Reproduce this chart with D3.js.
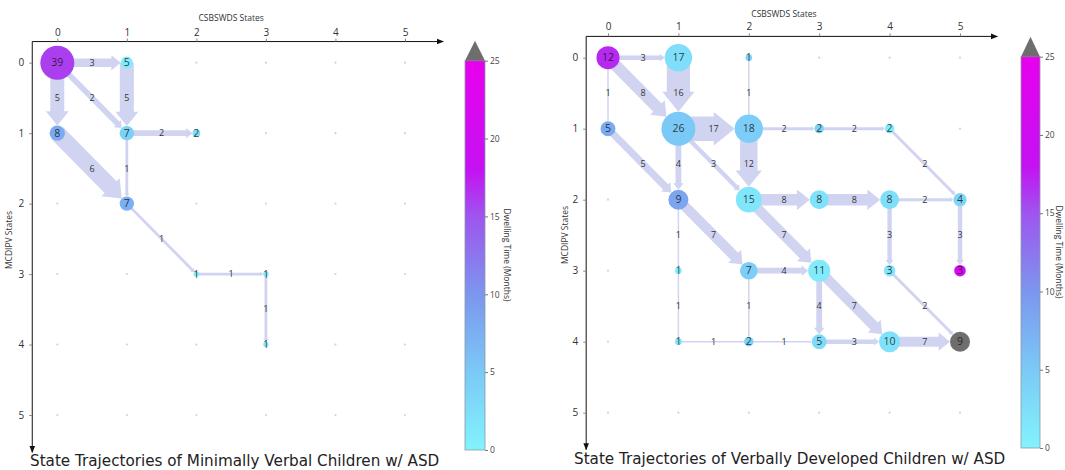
<!DOCTYPE html>
<html lang="en">
<head>
<meta charset="UTF-8">
<title>State Trajectories</title>
<style>
    body { margin: 0; background: #fff; }
    svg { display: block; }
    text { font-family: 'Open Sans', 'DejaVu Sans', sans-serif; }
    .title { font-family: 'DejaVu Sans', sans-serif; }
</style>
</head>
<body>
<svg width="1065" height="470"></svg>
<script src="https://d3js.org/d3.v7.min.js"></script>
<script>
// grid states (tick labels)
var states = [0, 1, 2, 3, 4, 5];

// nodes: [CSBSWDS state, MCDIPV state, count, dwelling time (months)]
var minimalNodes = [
    [0, 0, 39, 16], [1, 0, 5, 1], [0, 1, 8, 8], [1, 1, 7, 4], [2, 1, 2, 2.5],
    [1, 2, 7, 7.5], [2, 3, 1, 1], [3, 3, 1, 1], [3, 4, 1, 1]
];
// edges: [from col, from row, to col, to row, count]
var minimalEdges = [
    [0, 0, 1, 0, 3], [0, 0, 0, 1, 5], [0, 0, 1, 1, 2], [1, 0, 1, 1, 5],
    [1, 1, 2, 1, 2], [0, 1, 1, 2, 6], [1, 1, 1, 2, 1], [1, 2, 2, 3, 1],
    [2, 3, 3, 3, 1], [3, 3, 3, 4, 1]
];

var verbalNodes = [
    [0, 0, 12, 17], [1, 0, 17, 2.5], [2, 0, 1, 3.5],
    [0, 1, 5, 8], [1, 1, 26, 5], [2, 1, 18, 4.5], [3, 1, 2, 4], [4, 1, 2, 1],
    [1, 2, 9, 8.5], [2, 2, 15, 1.5], [3, 2, 8, 2], [4, 2, 8, 2.5], [5, 2, 4, 3.5],
    [1, 3, 1, 1], [2, 3, 7, 4.5], [3, 3, 11, 1], [4, 3, 3, 1.5], [5, 3, 3, 21],
    [1, 4, 1, 2], [2, 4, 2, 4], [3, 4, 5, 3], [4, 4, 10, 2], [5, 4, 9, 30]
];
var verbalEdges = [
    [0, 0, 1, 0, 3], [0, 0, 0, 1, 1], [0, 0, 1, 1, 8], [1, 0, 1, 1, 16], [2, 0, 2, 1, 1],
    [1, 1, 2, 1, 17], [2, 1, 3, 1, 2], [3, 1, 4, 1, 2], [4, 1, 5, 2, 2],
    [0, 1, 1, 2, 5], [1, 1, 1, 2, 4], [1, 1, 2, 2, 3], [2, 1, 2, 2, 12],
    [2, 2, 3, 2, 8], [3, 2, 4, 2, 8], [4, 2, 5, 2, 2],
    [1, 2, 1, 3, 1], [1, 2, 2, 3, 7], [2, 2, 3, 3, 7], [4, 2, 4, 3, 3], [5, 2, 5, 3, 3],
    [2, 3, 3, 3, 4], [1, 3, 1, 4, 1], [2, 3, 2, 4, 1], [3, 3, 3, 4, 4], [3, 3, 4, 4, 7],
    [4, 3, 5, 4, 2], [1, 4, 2, 4, 1], [2, 4, 3, 4, 1], [3, 4, 4, 4, 3], [4, 4, 5, 4, 7]
];

// colorbar ticks and colormap stops
var cbTicks = [0, 5, 10, 15, 20, 25];
var cbStopValues = [0, 5, 10, 15, 18, 25];
var cbStopColors = ["#82f3fd", "#7bc9f6", "#7c96ee", "#9e55ee", "#c412f2", "#e800ee"];
var overColor = "#6e6e6e";

var color = d3.scaleLinear().domain(cbStopValues).range(cbStopColors).clamp(true);
function nodeColor(v) { return v > 25 ? overColor : color(v); }

var svg = d3.select("svg");

// arrowhead marker for the axes
svg.append("defs").append("marker")
    .attr("id", "axhead")
    .attr("viewBox", "0 0 10 10")
    .attr("refX", 9).attr("refY", 5)
    .attr("markerWidth", 7).attr("markerHeight", 7)
    .attr("markerUnits", "userSpaceOnUse")
    .attr("orient", "auto")
    .append("path").attr("d", "M0,1 L10,5 L0,9 Z").attr("fill", "#111");

function arrowPoints(sx, sy, tx, ty, rt, w, hw, hl) {
    var dx = tx - sx, dy = ty - sy, len = Math.sqrt(dx * dx + dy * dy);
    var ux = dx / len, uy = dy / len, nx = -uy, ny = ux;
    var tipX = tx - ux * rt, tipY = ty - uy * rt;
    var bx = tipX - ux * hl, by = tipY - uy * hl;
    var h = w / 2, hh = hw / 2;
    return [
        [sx + nx * h, sy + ny * h], [bx + nx * h, by + ny * h], [bx + nx * hh, by + ny * hh],
        [tipX, tipY],
        [bx - nx * hh, by - ny * hh], [bx - nx * h, by - ny * h], [sx - nx * h, sy - ny * h]
    ];
}

function drawPanel(cfg, nodes, edges, title) {
    var g = svg.append("g");
    var x = d3.scaleLinear().domain([0, 5]).range(cfg.xr);
    var y = d3.scaleLinear().domain([0, 5]).range(cfg.yr);
    var maxCount = d3.max(nodes, function(d) { return d[2]; });
    var r = function(n) { return 17 * Math.sqrt(n / maxCount); };
    var rAt = {};
    nodes.forEach(function(d) { rAt[d[0] + "," + d[1]] = r(d[2]); });

    // axes with arrows
    g.append("line")
        .attr("x1", x(cfg.xa[0])).attr("x2", x(cfg.xa[1]))
        .attr("y1", y(cfg.ya[0])).attr("y2", y(cfg.ya[0]))
        .attr("stroke", "#111").attr("stroke-width", 1).attr("marker-end", "url(#axhead)");
    g.append("line")
        .attr("x1", x(cfg.xa[0])).attr("x2", x(cfg.xa[0]))
        .attr("y1", y(cfg.ya[0])).attr("y2", y(cfg.ya[1]))
        .attr("stroke", "#111").attr("stroke-width", 1).attr("marker-end", "url(#axhead)");

    var xAxis = g.append("g")
        .attr("transform", "translate(0," + y(cfg.ya[0]) + ")")
        .call(d3.axisTop(x).tickValues(states).tickFormat(d3.format("d")).tickSize(3).tickPadding(3));
    var yAxis = g.append("g")
        .attr("transform", "translate(" + x(cfg.xa[0]) + ",0)")
        .call(d3.axisLeft(y).tickValues(states).tickFormat(d3.format("d")).tickSize(3).tickPadding(5));
    [xAxis, yAxis].forEach(function(a) {
        a.select(".domain").remove();
        a.selectAll(".tick line").attr("stroke", "#888");
        a.selectAll(".tick text").attr("fill", "#333").style("font-size", "10px")
            .style("font-family", "'Open Sans', sans-serif");
    });

    g.append("text")
        .attr("x", (x(0) + x(5)) / 2).attr("y", cfg.xTitleY)
        .attr("text-anchor", "middle").attr("font-size", "8.5px").attr("fill", "#333")
        .text("CSBSWDS States");
    g.append("text")
        .attr("transform", "translate(" + cfg.yTitleX + "," + cfg.yTitleY + ") rotate(-90)")
        .attr("text-anchor", "middle").attr("font-size", "8.5px").attr("fill", "#333")
        .text("MCDIPV States");

    // grid dots
    var grid = [];
    states.forEach(function(c) { states.forEach(function(rw) { grid.push([c, rw]); }); });
    g.selectAll(".dot").data(grid).enter().append("circle")
        .attr("cx", function(d) { return x(d[0]); })
        .attr("cy", function(d) { return y(d[1]); })
        .attr("r", 1.1).attr("fill", "#d4d4d4");

    // edges
    g.selectAll(".edge").data(edges).enter().append("polygon")
        .attr("points", function(d) {
            var w = cfg.edgeScale * d[4];
            var hw = Math.min(w * 1.8, w + 9);
            var hl = hw * 0.62;
            return arrowPoints(x(d[0]), y(d[1]), x(d[2]), y(d[3]),
                rAt[d[2] + "," + d[3]], w, hw, hl).join(" ");
        })
        .attr("fill", "#c8cdee").attr("fill-opacity", 0.85);

    g.selectAll(".elab").data(edges).enter().append("text")
        .attr("x", function(d) { return (x(d[0]) + x(d[2])) / 2; })
        .attr("y", function(d) { return (y(d[1]) + y(d[3])) / 2; })
        .attr("dy", "0.35em").attr("text-anchor", "middle")
        .attr("font-size", "9px").attr("fill", "#333")
        .text(function(d) { return d[4]; });

    // nodes
    g.selectAll(".node").data(nodes).enter().append("circle")
        .attr("cx", function(d) { return x(d[0]); })
        .attr("cy", function(d) { return y(d[1]); })
        .attr("r", function(d) { return r(d[2]); })
        .attr("fill", function(d) { return nodeColor(d[3]); });
    g.selectAll(".nlab").data(nodes).enter().append("text")
        .attr("x", function(d) { return x(d[0]); })
        .attr("y", function(d) { return y(d[1]); })
        .attr("dy", "0.36em").attr("text-anchor", "middle")
        .attr("font-size", "10.5px").attr("fill", "#111").attr("fill-opacity", 0.8)
        .text(function(d) { return d[2]; });

    g.append("text").attr("class", "title")
        .attr("x", cfg.titleX).attr("y", cfg.titleY)
        .attr("font-size", "15.2px").attr("fill", "#222")
        .text(title);

    // colorbar
    var cb = svg.append("g");
    var cy = d3.scaleLinear().domain([0, 25]).range(cfg.cbY);
    var gradId = "grad" + cfg.id;
    var grad = svg.select("defs").append("linearGradient").attr("id", gradId)
        .attr("x1", 0).attr("y1", 1).attr("x2", 0).attr("y2", 0);
    cbStopValues.forEach(function(v, i) {
        grad.append("stop").attr("offset", v / 25).attr("stop-color", cbStopColors[i]);
    });
    cb.append("rect")
        .attr("x", cfg.cbX).attr("y", cy(25)).attr("width", cfg.cbW)
        .attr("height", cy(0) - cy(25)).attr("fill", "url(#" + gradId + ")")
        .attr("stroke", "#8a9aa6").attr("stroke-width", 0.8);
    cb.append("path")
        .attr("d", "M" + cfg.cbX + "," + cy(25) + " L" + (cfg.cbX + cfg.cbW / 2) + "," + (cy(25) - 20) +
            " L" + (cfg.cbX + cfg.cbW) + "," + cy(25) + " Z")
        .attr("fill", overColor);
    var cbAxis = cb.append("g")
        .attr("transform", "translate(" + (cfg.cbX + cfg.cbW) + ",0)")
        .call(d3.axisRight(cy).tickValues(cbTicks).tickSize(3).tickPadding(2));
    cbAxis.select(".domain").remove();
    cbAxis.selectAll(".tick line").attr("stroke", "#777");
    cbAxis.selectAll(".tick text").attr("fill", "#444").style("font-size", "8.5px")
        .style("font-family", "'Open Sans', sans-serif");
    cb.append("text")
        .attr("transform", "translate(" + cfg.cbLabX + "," + cfg.cbLabY + ") rotate(90)")
        .attr("text-anchor", "middle").attr("font-size", "8.5px").attr("fill", "#333")
        .text("Dwelling Time (Months)");
}

drawPanel({
    id: "L", xr: [57.3, 405], yr: [62.7, 415], xa: [-0.36, 5.55], ya: [-0.3, 5.53],
    xTitleY: 21, yTitleX: 12, yTitleY: 240, edgeScale: 2.8,
    titleX: 30, titleY: 466,
    cbX: 465, cbW: 20, cbY: [450, 60.7], cbLabX: 504, cbLabY: 255
}, minimalNodes, minimalEdges, "State Trajectories of Minimally Verbal Children w/ ASD");

drawPanel({
    id: "R", xr: [608, 960], yr: [57.7, 412.7], xa: [-0.31, 5.53], ya: [-0.3, 5.52],
    xTitleY: 17, yTitleX: 568, yTitleY: 235, edgeScale: 1.45,
    titleX: 574, titleY: 464,
    cbX: 1021, cbW: 19, cbY: [448, 56.7], cbLabX: 1056, cbLabY: 252
}, verbalNodes, verbalEdges, "State Trajectories of Verbally Developed Children w/ ASD");
</script>
</body>
</html>
